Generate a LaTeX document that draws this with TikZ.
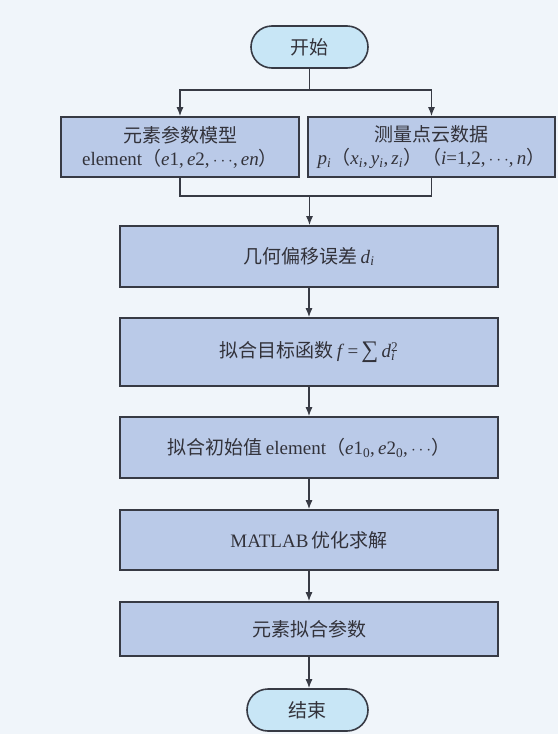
\documentclass[tikz,border=0pt]{standalone}
\usepackage{fontspec}
\setmainfont{Liberation Serif}
\newfontfamily\cjk{Noto Sans CJK SC}
\usetikzlibrary{arrows.meta}
\definecolor{bgcol}{RGB}{240,245,250}
\definecolor{boxfill}{RGB}{186,202,232}
\definecolor{termfill}{RGB}{200,230,246}
\definecolor{edgecol}{RGB}{55,58,68}
\definecolor{txtcol}{RGB}{50,50,58}
\newcommand{\dotsx}{$\cdots$}
\begin{document}
\begin{tikzpicture}[x=1pt,y=-1pt,
  base/.style={draw=edgecol, line width=1.6pt, text=txtcol, inner sep=0pt, font=\fontsize{19}{23}\selectfont},
  box/.style={base, rectangle, fill=boxfill, align=center},
  term/.style={base, rectangle, rounded corners=21pt, fill=termfill},
  conn/.style={draw=edgecol, line width=1.3pt},
  arr/.style={conn, -{Latex[length=9pt,width=7pt]}}]
\fill[bgcol] (0,0) rectangle (558,734);
\useasboundingbox (0,0) rectangle (558,734);

\node[term, minimum width=117pt, minimum height=42pt] (start) at (309.5,47) {\cjk 开始};
\node[box, minimum width=238pt, minimum height=60pt] (m) at (180,147)
  {{\cjk 元素参数模型}\\[0pt] element{\cjk （}\textit{e}1,\,\textit{e}2,\,\dotsx,\,\textit{en}{\cjk ）}};
\node[box, minimum width=247pt, minimum height=60pt] (p) at (431.5,147)
  {{\cjk 测量点云数据}\\[0pt] \textit{p}\textsubscript{\textit{i}}{\cjk （}\textit{x}\textsubscript{\textit{i}},\,\textit{y}\textsubscript{\textit{i}},\,\textit{z}\textsubscript{\textit{i}}{\cjk ）（}\textit{i}=1,2,\,\dotsx,\,\textit{n}{\cjk ）}};
\node[box, minimum width=378pt, minimum height=61pt] (b1) at (309,256.5)
  {{\cjk 几何偏移误差}\,\textit{d}\textsubscript{\textit{i}}};
\node[box, minimum width=378pt, minimum height=68pt] (b2) at (309,352)
  {{\cjk 拟合目标函数}\,\textit{f}\,=\,\scalebox{1.25}{∑}\,\textit{d}\rlap{\textsubscript{\textit{i}}}\textsuperscript{2}};
\node[box, minimum width=378pt, minimum height=61pt] (b3) at (309,447.5)
  {{\cjk 拟合初始值}\,element{\cjk （}\textit{e}1\textsubscript{0},\,\textit{e}2\textsubscript{0},\,\dotsx{\cjk ）}};
\node[box, minimum width=378pt, minimum height=60pt] (b4) at (309,540)
  {MATLAB\,{\cjk 优化求解}};
\node[box, minimum width=378pt, minimum height=54pt] (b5) at (309,629)
  {{\cjk 元素拟合参数}};
\node[term, minimum width=121pt, minimum height=42pt] (end) at (307.5,710) {\cjk 结束};

\coordinate (split) at (309.5,90);
\coordinate (merge) at (309.5,196);

\draw[conn] (start) -- (split);
\draw[arr] (split) -| (m.north);
\draw[arr] (split) -| (p.north);
\draw[conn] (m.south) |- (merge);
\draw[conn] (p.south) |- (merge);
\draw[arr] (merge) -- (merge |- b1.north);
\draw[arr] (b1) -- (b2);
\draw[arr] (b2) -- (b3);
\draw[arr] (b3) -- (b4);
\draw[arr] (b4) -- (b5);
\draw[arr] (b5.south) -- (b5.south |- end.north);
\end{tikzpicture}
\end{document}
